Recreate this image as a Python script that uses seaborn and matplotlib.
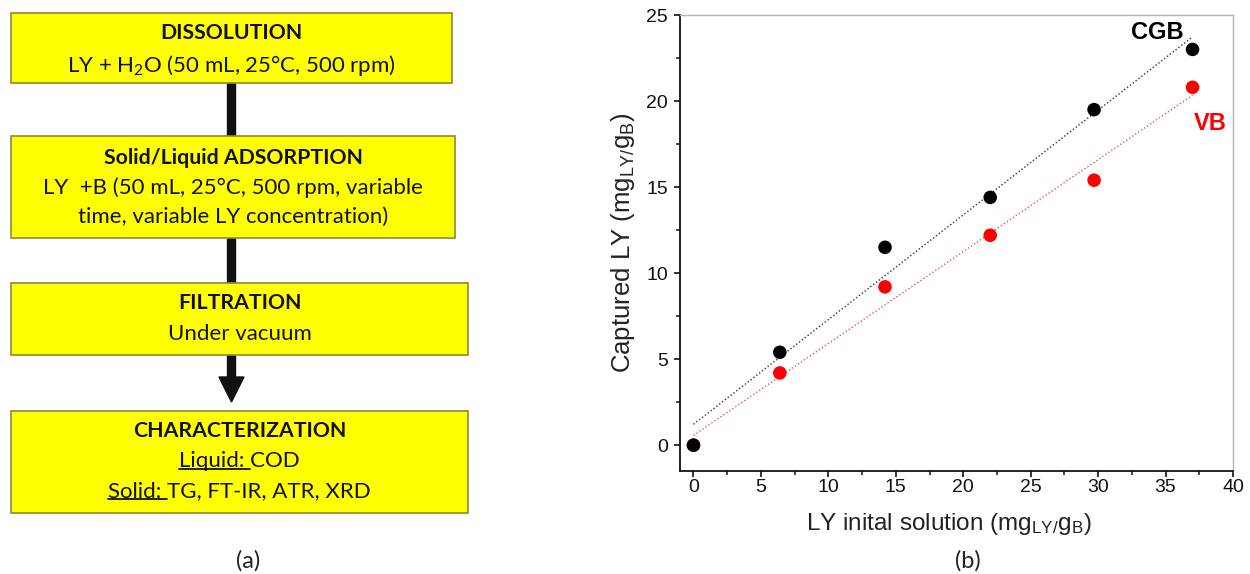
import numpy as np
import pandas as pd
import matplotlib
matplotlib.use("Agg")
import matplotlib.pyplot as plt
import seaborn as sns
from matplotlib.patches import Rectangle, Polygon
from matplotlib.ticker import MultipleLocator

# ---------------- data (panel b) ----------------
ly_initial = [0.0, 6.4, 14.2, 22.0, 29.7, 37.0]
captured_cgb = [0.0, 5.4, 11.5, 14.4, 19.5, 23.0]
captured_vb = [0.0, 4.2, 9.2, 12.2, 15.4, 20.8]
series_names = ["VB", "CGB"]
x_ticks = [0, 5, 10, 15, 20, 25, 30, 35, 40]
y_ticks = [0, 5, 10, 15, 20, 25]

# ---------------- text (panel a) ----------------
step_titles = ["DISSOLUTION", "Solid/Liquid ADSORPTION", "FILTRATION", "CHARACTERIZATION"]
step_lines = [
    ["LY + H$\\mathregular{_2}$O (50 mL, 25°C, 500 rpm)"],
    ["LY  +B (50 mL, 25°C, 500 rpm, variable", "time, variable LY concentration)"],
    ["Under vacuum"],
    ["Liquid: COD", "Solid: TG, FT-IR, ATR, XRD"],
]
underlined_prefix = {(3, 0): "Liquid: ", (3, 1): "Solid: "}

sns.set_theme(style="ticks")
plt.rcParams["font.family"] = ["Liberation Sans", "DejaVu Sans"]

W, H = 1250, 574
fig = plt.figure(figsize=(W / 100, H / 100), dpi=100)
fig.patch.set_facecolor("white")

# overlay axes in pixel coordinates for the flowchart
axf = fig.add_axes([0, 0, 1, 1])
axf.set_xlim(0, W)
axf.set_ylim(H, 0)
axf.axis("off")

cal = ["Lato", "DejaVu Sans"]
box_geo = [  # x0, x1, y0, y1 (pixels)
    (11, 452, 13, 83),
    (11, 455, 136, 238),
    (11, 468, 283, 355),
    (11, 468, 411, 513),
]
title_y = [33, 158, 303, 431]
line_y = [[65], [188, 217], [334], [461, 491]]
fs_title = 15.3
fs = 16.0

for i, (x0, x1, y0, y1) in enumerate(box_geo):
    axf.add_patch(Rectangle((x0, y0), x1 - x0, y1 - y0, facecolor="#ffff00",
                            edgecolor="#8a8a3a", lw=1.2, zorder=2))
    cx = (x0 + x1) / 2
    axf.text(cx, title_y[i], step_titles[i], ha="center", va="center",
             fontsize=fs_title, fontweight="bold", family=cal, color="#111111", zorder=3)
    for j, line in enumerate(step_lines[i]):
        axf.text(cx, line_y[i][j], line, ha="center", va="center",
                 fontsize=fs, family=cal, color="#111111", zorder=3)

# arrows
shaft_x = 231
axf.add_patch(Rectangle((shaft_x - 4, 83), 8, 53, color="#111111", zorder=1))
axf.add_patch(Rectangle((shaft_x - 4, 238), 8, 45, color="#111111", zorder=1))
axf.add_patch(Rectangle((shaft_x - 4, 355), 8, 24, color="#111111", zorder=1))
axf.add_patch(Polygon([[219, 377], [244, 377], [231.5, 402]], closed=True,
                      color="#111111", zorder=1))

axf.text(248, 561, "(a)", ha="center", va="center", fontsize=17, family=cal, color="#222222")
axf.text(968, 561, "(b)", ha="center", va="center", fontsize=17, family=cal, color="#222222")

# ---------------- panel b ----------------
ax = fig.add_axes([680 / W, 1 - 471 / H, (1233 - 680) / W, (471 - 15) / H])
ax.set_facecolor("white")

sns.regplot(x=ly_initial, y=captured_vb, ax=ax, scatter=False, ci=None, truncate=True,
            line_kws=dict(color="#f05050", ls=(0, (1, 1.6)), lw=1.0))
sns.regplot(x=ly_initial, y=captured_cgb, ax=ax, scatter=False, ci=None, truncate=True,
            line_kws=dict(color="#333333", ls=(0, (1, 1.6)), lw=1.0))

df = pd.DataFrame({
    "x": ly_initial + ly_initial,
    "y": captured_vb + captured_cgb,
    "series": [series_names[0]] * len(ly_initial) + [series_names[1]] * len(ly_initial),
})
sns.scatterplot(data=df, x="x", y="y", hue="series",
                palette={"CGB": "#000000", "VB": "#ff0000"},
                s=95, edgecolor="none", legend=False, ax=ax, zorder=5)

ax.set_xlim(-1, 40)
ax.set_ylim(-1.5, 25)
ax.set_xticks(x_ticks)
ax.set_yticks(y_ticks)
ax.xaxis.set_minor_locator(MultipleLocator(2.5))
ax.yaxis.set_minor_locator(MultipleLocator(2.5))
ax.tick_params(which="major", direction="out", length=4.5, width=1.2, labelsize=14,
               colors="#111111")
ax.tick_params(axis="x", which="major", pad=1.5)
ax.tick_params(axis="y", which="major", pad=4)
ax.tick_params(which="minor", direction="out", length=3, width=1.1, colors="#111111")
for s in ["left", "bottom"]:
    ax.spines[s].set_color("#111111")
    ax.spines[s].set_linewidth(1.3)
for s in ["top", "right"]:
    ax.spines[s].set_visible(True)
    ax.spines[s].set_color("#b5b5b5")
    ax.spines[s].set_linewidth(1.0)

ax.set_xlabel("LY inital solution (mg$\\mathregular{_{LY/}}$g$\\mathregular{_B}$)",
              fontsize=17.5, color="#222222")
ax.set_ylabel("Captured LY (mg$\\mathregular{_{LY/}}$g$\\mathregular{_B}$)",
              fontsize=18.5, color="#222222", labelpad=7)
ax.xaxis.set_label_coords(0.487, -0.088)

ax.text(34.4, 24.0, "CGB", ha="center", va="center", fontsize=17, fontweight="bold", color="#000000")
ax.text(38.3, 18.7, "VB", ha="center", va="center", fontsize=17, fontweight="bold", color="#ff0000")

# underlines for "Liquid:" and "Solid:"
fig.canvas.draw()
r = fig.canvas.get_renderer()
inv = axf.transData.inverted()
for (i, j), prefix in underlined_prefix.items():
    full_t = [t for t in axf.texts if t.get_text() == step_lines[i][j]][0]
    bb = full_t.get_window_extent(r)
    tmp = axf.text(0, 0, prefix, fontsize=fs, family=cal)
    wp = tmp.get_window_extent(r).width
    tmp.remove()
    (px0, py), (px1, _) = inv.transform([[bb.x0, bb.y0 + 2], [bb.x0 + wp, bb.y0 + 2]])
    axf.plot([px0, px1], [py, py], color="#111111", lw=1.3, zorder=4)

fig.savefig("out.png", dpi=100)
